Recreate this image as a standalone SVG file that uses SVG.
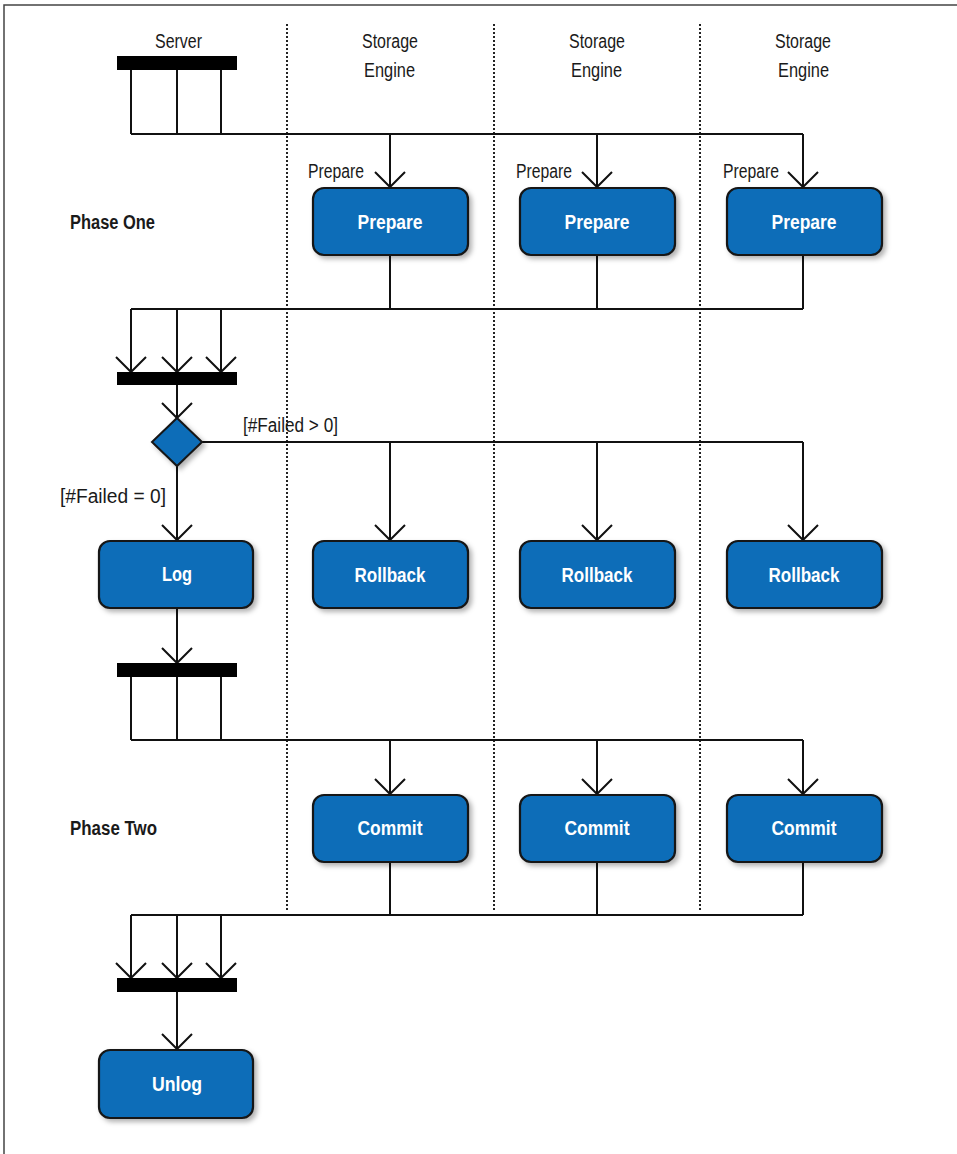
<svg xmlns="http://www.w3.org/2000/svg" width="957" height="1154" viewBox="0 0 957 1154">
<style>
.lbl{font-family:"Liberation Sans",Arial,sans-serif;font-size:20px;fill:#1a1a1a}
.bold{font-weight:bold}
.box{fill:#0b6db8;stroke:#151515;stroke-width:2.2}
.boxt{font-family:"Liberation Sans",Arial,sans-serif;font-size:21px;font-weight:bold;fill:#ffffff;text-anchor:middle}
.ln{fill:none;stroke:#111;stroke-width:2}
.lane{stroke:#222;stroke-width:2;stroke-dasharray:2,2}
.bar{fill:#000}
</style>
<defs>
<marker id="arr" markerUnits="userSpaceOnUse" markerWidth="40" markerHeight="40" refX="0" refY="0" viewBox="-20 -20 40 40" orient="auto" overflow="visible">
<path d="M-15,-15 L0,0 L-15,15" fill="none" stroke="#111" stroke-width="2"/>
</marker>
<filter id="sh" x="-10%" y="-10%" width="130%" height="140%">
<feDropShadow dx="3" dy="3" stdDeviation="2.5" flood-color="#000" flood-opacity="0.3"/>
</filter>
</defs>
<rect width="957" height="1154" fill="#fff"/>
<path d="M4,1154 V5 H957" fill="none" stroke="#444" stroke-width="1.5"/>

<g id="lanes">
<line class="lane" x1="287" y1="24" x2="287" y2="912"/>
<line class="lane" x1="494" y1="24" x2="494" y2="912"/>
<line class="lane" x1="700" y1="24" x2="700" y2="912"/>
<text class="lbl" x="155" y="48" textLength="47" lengthAdjust="spacingAndGlyphs">Server</text>
<text class="lbl" x="362" y="48" textLength="56" lengthAdjust="spacingAndGlyphs">Storage</text>
<text class="lbl" x="364" y="77" textLength="51" lengthAdjust="spacingAndGlyphs">Engine</text>
<text class="lbl" x="569" y="48" textLength="56" lengthAdjust="spacingAndGlyphs">Storage</text>
<text class="lbl" x="571" y="77" textLength="51" lengthAdjust="spacingAndGlyphs">Engine</text>
<text class="lbl" x="775" y="48" textLength="56" lengthAdjust="spacingAndGlyphs">Storage</text>
<text class="lbl" x="778" y="77" textLength="51" lengthAdjust="spacingAndGlyphs">Engine</text>
<text class="lbl bold" x="70" y="229" textLength="85" lengthAdjust="spacingAndGlyphs">Phase One</text>
<text class="lbl bold" x="70" y="835" textLength="87" lengthAdjust="spacingAndGlyphs">Phase Two</text>
</g>

<g id="connectors">
<path class="ln" d="M131,70 V134 M177,70 V134 M221,70 V134 M131,134 H803"/>
<path class="ln" d="M390,134 V187" marker-end="url(#arr)"/>
<path class="ln" d="M597,134 V187" marker-end="url(#arr)"/>
<path class="ln" d="M803,134 V187" marker-end="url(#arr)"/>
<text class="lbl" x="308" y="178" textLength="56" lengthAdjust="spacingAndGlyphs">Prepare</text>
<text class="lbl" x="516" y="178" textLength="56" lengthAdjust="spacingAndGlyphs">Prepare</text>
<text class="lbl" x="723" y="178" textLength="56" lengthAdjust="spacingAndGlyphs">Prepare</text>
<path class="ln" d="M390,255 V309 M597,255 V309 M803,255 V309 M131,309 H803"/>
<path class="ln" d="M131,309 V372" marker-end="url(#arr)"/>
<path class="ln" d="M177,309 V372" marker-end="url(#arr)"/>
<path class="ln" d="M221,309 V372" marker-end="url(#arr)"/>
<path class="ln" d="M177,385 V418" marker-end="url(#arr)"/>
<path class="ln" d="M202,442 H803"/>
<path class="ln" d="M390,442 V540" marker-end="url(#arr)"/>
<path class="ln" d="M597,442 V540" marker-end="url(#arr)"/>
<path class="ln" d="M803,442 V540" marker-end="url(#arr)"/>
<text class="lbl" x="243" y="432" textLength="95" lengthAdjust="spacingAndGlyphs">[#Failed &gt; 0]</text>
<path class="ln" d="M177,466 V540" marker-end="url(#arr)"/>
<text class="lbl" x="60" y="503" textLength="106" lengthAdjust="spacingAndGlyphs">[#Failed = 0]</text>
<path class="ln" d="M177,608 V663" marker-end="url(#arr)"/>
<path class="ln" d="M131,677 V740 M177,677 V740 M221,677 V740 M131,740 H803"/>
<path class="ln" d="M390,740 V794" marker-end="url(#arr)"/>
<path class="ln" d="M597,740 V794" marker-end="url(#arr)"/>
<path class="ln" d="M803,740 V794" marker-end="url(#arr)"/>
<path class="ln" d="M390,862 V915 M597,862 V915 M803,862 V915 M131,915 H803"/>
<path class="ln" d="M131,915 V978" marker-end="url(#arr)"/>
<path class="ln" d="M177,915 V978" marker-end="url(#arr)"/>
<path class="ln" d="M221,915 V978" marker-end="url(#arr)"/>
<path class="ln" d="M177,992 V1049" marker-end="url(#arr)"/>
</g>

<g id="fork1"><rect class="bar" x="117" y="56" width="120" height="14"/></g>
<g id="join1"><rect class="bar" x="117" y="372" width="120" height="13"/></g>
<g id="fork2"><rect class="bar" x="117" y="663" width="120" height="14"/></g>
<g id="join2"><rect class="bar" x="117" y="978" width="120" height="14"/></g>

<g id="decision"><path d="M177,418 L202,442 L177,466 L152,442 Z" fill="#0b6db8" stroke="#151515" stroke-width="2" filter="url(#sh)"/></g>

<g id="prepare1"><rect class="box" x="313" y="188" width="155" height="67" rx="11" filter="url(#sh)"/><text class="boxt" x="390" y="229" textLength="65" lengthAdjust="spacingAndGlyphs">Prepare</text></g>
<g id="prepare2"><rect class="box" x="520" y="188" width="155" height="67" rx="11" filter="url(#sh)"/><text class="boxt" x="597" y="229" textLength="65" lengthAdjust="spacingAndGlyphs">Prepare</text></g>
<g id="prepare3"><rect class="box" x="727" y="188" width="155" height="67" rx="11" filter="url(#sh)"/><text class="boxt" x="804" y="229" textLength="65" lengthAdjust="spacingAndGlyphs">Prepare</text></g>

<g id="log"><rect class="box" x="99" y="541" width="154" height="67" rx="11" filter="url(#sh)"/><text class="boxt" x="177" y="581" textLength="30" lengthAdjust="spacingAndGlyphs">Log</text></g>
<g id="rollback1"><rect class="box" x="313" y="541" width="155" height="67" rx="11" filter="url(#sh)"/><text class="boxt" x="390" y="582" textLength="71" lengthAdjust="spacingAndGlyphs">Rollback</text></g>
<g id="rollback2"><rect class="box" x="520" y="541" width="155" height="67" rx="11" filter="url(#sh)"/><text class="boxt" x="597" y="582" textLength="71" lengthAdjust="spacingAndGlyphs">Rollback</text></g>
<g id="rollback3"><rect class="box" x="727" y="541" width="155" height="67" rx="11" filter="url(#sh)"/><text class="boxt" x="804" y="582" textLength="71" lengthAdjust="spacingAndGlyphs">Rollback</text></g>

<g id="commit1"><rect class="box" x="313" y="795" width="155" height="67" rx="11" filter="url(#sh)"/><text class="boxt" x="390" y="835" textLength="65" lengthAdjust="spacingAndGlyphs">Commit</text></g>
<g id="commit2"><rect class="box" x="520" y="795" width="155" height="67" rx="11" filter="url(#sh)"/><text class="boxt" x="597" y="835" textLength="65" lengthAdjust="spacingAndGlyphs">Commit</text></g>
<g id="commit3"><rect class="box" x="727" y="795" width="155" height="67" rx="11" filter="url(#sh)"/><text class="boxt" x="804" y="835" textLength="65" lengthAdjust="spacingAndGlyphs">Commit</text></g>

<g id="unlog"><rect class="box" x="99" y="1050" width="154" height="68" rx="11" filter="url(#sh)"/><text class="boxt" x="177" y="1091" textLength="50" lengthAdjust="spacingAndGlyphs">Unlog</text></g>
</svg>
